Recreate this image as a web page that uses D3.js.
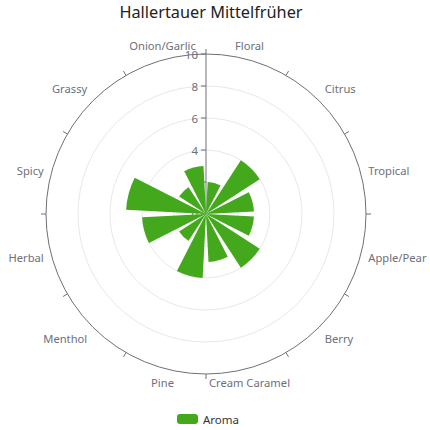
<!DOCTYPE html>
<html>
<head>
<meta charset="utf-8">
<script src="https://cdn.jsdelivr.net/npm/d3@7"></script>
<style>
  body { margin: 0; background: #fff; }
  svg text { font-family: "Noto Sans", "Open Sans", sans-serif; }
</style>
</head>
<body>
<div id="chart"></div>
<script>
// Data
const categories = ["Floral", "Citrus", "Tropical", "Apple/Pear", "Berry", "Cream Caramel",
    "Pine", "Menthol", "Herbal", "Spicy", "Grassy", "Onion/Garlic"];
const aromaValues = [2, 4, 3, 3, 4, 3, 4, 2, 4, 5, 2, 3];
const radiusTicks = [0, 2, 4, 6, 8, 10];
const seriesName = "Aroma";
const chartTitle = "Hallertauer Mittelfrüher";

const width = 430, height = 430;
const cx = 206, cy = 214, outerR = 160;
const axisColor = "#6E7079";
const green = "#43a81b";

const svg = d3.select("#chart")
    .append("svg")
    .attr("width", width)
    .attr("height", height);

// Scales
const r = d3.scaleLinear()
    .domain([0, 10])
    .range([0, outerR]);

const angle = d3.scaleBand()
    .domain(categories)
    .range([0, 2 * Math.PI])
    .paddingInner(0)
    .paddingOuter(0);

const g = svg.append("g")
    .attr("transform", `translate(${cx},${cy})`);

// Split circles
g.selectAll("circle.split")
    .data(radiusTicks.filter(d => d > 0 && d < 10))
    .join("circle")
    .attr("class", "split")
    .attr("r", d => r(d))
    .attr("fill", "none")
    .attr("stroke", "#e8e8e8");

// Outer angle axis line
g.append("circle")
    .attr("r", r(10))
    .attr("fill", "none")
    .attr("stroke", axisColor);

// Angle ticks at band boundaries (pointing outward)
g.selectAll("line.atick")
    .data(categories)
    .join("line")
    .attr("class", "atick")
    .attr("x1", d => Math.sin(angle(d)) * outerR)
    .attr("y1", d => -Math.cos(angle(d)) * outerR)
    .attr("x2", d => Math.sin(angle(d)) * (outerR + 5))
    .attr("y2", d => -Math.cos(angle(d)) * (outerR + 5))
    .attr("stroke", axisColor);

// Angle labels
g.selectAll("text.alabel")
    .data(categories)
    .join("text")
    .attr("class", "alabel")
    .each(function (d) {
        const a = angle(d) + angle.bandwidth() / 2;
        const px = Math.sin(a) * (outerR + 8);
        const py = -Math.cos(a) * (outerR + 8);
        const anchor = Math.abs(px) / outerR < 0.3 ? "middle" : (px > 0 ? "start" : "end");
        const base = Math.abs(py) / outerR < 0.3 ? "central" : (py > 0 ? "hanging" : "auto");
        d3.select(this)
            .attr("x", px)
            .attr("y", py + (base === "hanging" ? 1 : (base === "auto" ? -2 : 0)))
            .attr("text-anchor", anchor)
            .attr("dominant-baseline", base);
    })
    .attr("font-size", 11.2)
    .attr("fill", axisColor)
    .text(d => d);

// Radius axis
const rAxis = g.append("g");
rAxis.append("line")
    .attr("x1", 0).attr("y1", 0)
    .attr("x2", 0).attr("y2", -r(10))
    .attr("stroke", axisColor);

rAxis.selectAll("line.rtick")
    .data(radiusTicks)
    .join("line")
    .attr("class", "rtick")
    .attr("x1", -5).attr("x2", 0)
    .attr("y1", d => -r(d)).attr("y2", d => -r(d))
    .attr("stroke", axisColor);

rAxis.selectAll("text.rlabel")
    .data(radiusTicks)
    .join("text")
    .attr("class", "rlabel")
    .attr("x", -8)
    .attr("y", d => -r(d))
    .attr("text-anchor", "end")
    .attr("dominant-baseline", "central")
    .attr("font-size", 11.5)
    .attr("fill", axisColor)
    .text(d => d);

// Bars (wedges), 20% category gap
const gap = angle.bandwidth() * 0.1;
const arc = d3.arc()
    .innerRadius(0)
    .outerRadius(d => r(d.value))
    .startAngle(d => angle(d.cat) + gap)
    .endAngle(d => angle(d.cat) + angle.bandwidth() - gap);

g.selectAll("path.bar")
    .data(categories.map((c, i) => ({cat: c, value: aromaValues[i]})))
    .join("path")
    .attr("class", "bar")
    .attr("d", arc)
    .attr("fill", green);

// Title
svg.append("text")
    .attr("x", 211)
    .attr("y", 18)
    .attr("text-anchor", "middle")
    .attr("font-size", 16.3)
    .attr("fill", "#222")
    .text(chartTitle);

// Legend
const legend = svg.append("g")
    .attr("transform", "translate(177,414)");
legend.append("rect")
    .attr("width", 21)
    .attr("height", 10)
    .attr("rx", 3)
    .attr("fill", green);
legend.append("text")
    .attr("x", 26)
    .attr("y", 5)
    .attr("dominant-baseline", "central")
    .attr("font-size", 11.5)
    .attr("fill", "#333")
    .text(seriesName);
</script>
</body>
</html>
